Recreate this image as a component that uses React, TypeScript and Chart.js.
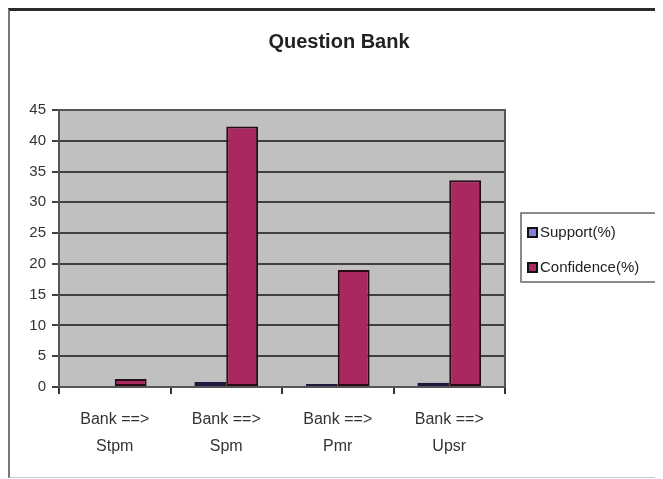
import React, { useEffect, useRef } from "react";
import { Chart, registerables } from "chart.js";

Chart.register(...registerables);

const title = "Question Bank";
const categories: string[][] = [
  ["Bank ==>", "Stpm"],
  ["Bank ==>", "Spm"],
  ["Bank ==>", "Pmr"],
  ["Bank ==>", "Upsr"],
];
const supportValues = [0, 0.8, 0.5, 0.7];
const confidenceValues = [1.3, 42.3, 19.0, 33.6];
const seriesNames = ["Support(%)", "Confidence(%)"];
const yMin = 0;
const yMax = 45;
const yStep = 5;

const FONT = "'Liberation Sans', Arial, sans-serif";

const plotBg = {
  id: "plotBg",
  beforeDraw(chart: any) {
    const { ctx, chartArea } = chart;
    ctx.save();
    ctx.fillStyle = "#c0c0c0";
    ctx.fillRect(chartArea.left, chartArea.top, chartArea.right - chartArea.left, chartArea.bottom - chartArea.top);
    ctx.restore();
  },
  beforeDatasetsDraw(chart: any) {
    const { ctx, chartArea } = chart;
    ctx.save();
    ctx.strokeStyle = "#555";
    ctx.lineWidth = 2;
    ctx.strokeRect(chartArea.left, chartArea.top, chartArea.right - chartArea.left, chartArea.bottom - chartArea.top);
    ctx.restore();
  },
};

const chartTitle = {
  id: "chartTitle",
  afterDraw(chart: any) {
    const { ctx } = chart;
    ctx.save();
    ctx.font = `bold 20px ${FONT}`;
    ctx.fillStyle = "#222";
    ctx.textAlign = "center";
    ctx.textBaseline = "middle";
    ctx.fillText(title, 329, 31);
    ctx.restore();
  },
};

const boxedLegend = {
  id: "boxedLegend",
  afterDraw(chart: any) {
    const { ctx } = chart;
    const x0 = 511, y0 = 202, w = 139, h = 69;
    ctx.save();
    ctx.strokeStyle = "#666";
    ctx.lineWidth = 1.5;
    ctx.strokeRect(x0, y0, w, h);
    ctx.font = `15px ${FONT}`;
    ctx.textBaseline = "middle";
    chart.data.datasets.forEach((ds: any, i: number) => {
      const cy = y0 + 20 + i * 35;
      ctx.fillStyle = ds.backgroundColor;
      ctx.fillRect(x0 + 7, cy - 5, 9, 9);
      ctx.strokeStyle = "#111";
      ctx.lineWidth = 2;
      ctx.strokeRect(x0 + 7, cy - 5, 9, 9);
      ctx.fillStyle = "#222";
      ctx.fillText(ds.label, x0 + 19, cy);
    });
    ctx.restore();
  },
};

export default function App() {
  const ref = useRef<HTMLCanvasElement | null>(null);
  useEffect(() => {
    if (!ref.current) return;
    const chart = new Chart(ref.current, {
      type: "bar",
      data: {
        labels: categories,
        datasets: [
          {
            label: seriesNames[0],
            data: supportValues,
            backgroundColor: "#8080d0",
            borderColor: "#1a1a40",
            borderWidth: 2,
            borderSkipped: false,
            categoryPercentage: 2 / 3.5,
            barPercentage: 1,
          },
          {
            label: seriesNames[1],
            data: confidenceValues,
            backgroundColor: "#a8285f",
            borderColor: "#2a0a15",
            borderWidth: 2,
            borderSkipped: false,
            categoryPercentage: 2 / 3.5,
            barPercentage: 1,
          },
        ],
      },
      options: {
        responsive: false,
        animation: false,
        layout: { padding: { left: 0, right: 158, top: 99, bottom: 0 } },
        plugins: {
          legend: { display: false },
          tooltip: { enabled: false },
          title: { display: false },
        },
        scales: {
          x: {
            afterFit: (s: any) => { s.height = 90; },
            grid: { drawOnChartArea: false, tickLength: 7, color: "#333", lineWidth: 2, offset: true },
            border: { display: true, color: "#222", width: 2 },
            ticks: {
              color: "#333",
              padding: 12,
              maxRotation: 0,
              font: { family: FONT, size: 16, lineHeight: 1.7 },
            },
          },
          y: {
            min: yMin,
            max: yMax,
            afterFit: (s: any) => { s.width = 49; },
            grid: { color: "#404040", lineWidth: 2, tickLength: 7 },
            border: { display: true, color: "#333", width: 2 },
            ticks: {
              stepSize: yStep,
              color: "#333",
              padding: 6,
              font: { family: FONT, size: 15 },
            },
          },
        },
      },
      plugins: [plotBg, chartTitle, boxedLegend],
    });
    return () => chart.destroy();
  }, []);
  return (
    <div
      style={{
        width: 653,
        height: 466,
        borderTop: "3px solid #2a2a2a",
        borderLeft: "2px solid #777",
        borderBottom: "1px solid #ccc",
        background: "#fff",
        overflow: "hidden",
      }}
    >
      <canvas ref={ref} width={653} height={466} style={{ display: "block" }} />
    </div>
  );
}
